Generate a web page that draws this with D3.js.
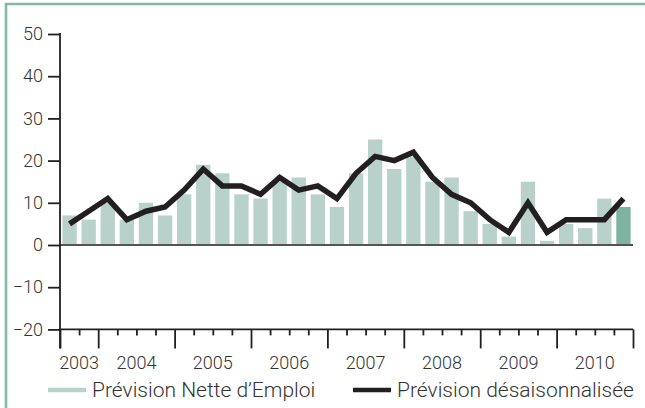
<!DOCTYPE html>
<html><head><meta charset="utf-8">
<script src="https://cdn.jsdelivr.net/npm/d3@7/dist/d3.min.js"></script>
<style>
html,body{margin:0;padding:0;background:#fff;}
svg{display:block;}
text{font-family:Roboto,"Liberation Sans",Arial,sans-serif;font-weight:300;fill:#333;}
</style></head>
<body><svg id="c" width="645" height="408"></svg>
<script>
// ---- data ----
const quarters = ["2003T3","2003T4",
 "2004T1","2004T2","2004T3","2004T4",
 "2005T1","2005T2","2005T3","2005T4",
 "2006T1","2006T2","2006T3","2006T4",
 "2007T1","2007T2","2007T3","2007T4",
 "2008T1","2008T2","2008T3","2008T4",
 "2009T1","2009T2","2009T3","2009T4",
 "2010T1","2010T2","2010T3","2010T4"];
const netEmploi = [7,6,10,6,10,7,12,19,17,12,11,15,16,12,9,17,25,18,21,15,16,8,5,2,15,1,5,4,11,9];
const desaison  = [5,8,11,6,8,9,13,18,14,14,12,16,13,14,11,17,21,20,22,16,12,10,6,3,10,3,6,6,6,11];
const years = ["2003","2004","2005","2006","2007","2008","2009","2010"];
const yTicks = [-20,-10,0,10,20,30,40,50];
const legendLabels = ["Prévision Nette d’Emploi","Prévision désaisonnalisée"];

// ---- layout ----
const svg = d3.select("#c");
const L = 60, R = 633, T = 34, B = 329.4;
const axisColor = "#231f20";

// border
svg.append("path")
  .attr("d", d3.line()([[6,410],[6,4],[650,4]]))
  .attr("fill","none").attr("stroke","#82b8a4").attr("stroke-width",2.6);

const x = d3.scaleBand().domain(quarters).range([L,R]).paddingInner(0.25).paddingOuter(0.125);
const qx = d3.scaleLinear().domain([0, quarters.length]).range([L,R]);
const y = d3.scaleLinear().domain([-20,50]).range([B,T]);

// bars
svg.append("g").selectAll("rect").data(netEmploi).join("rect")
  .attr("x",(d,i)=>x(quarters[i]))
  .attr("width",x.bandwidth())
  .attr("y",d=>y(Math.max(0,d)))
  .attr("height",d=>Math.abs(y(d)-y(0)))
  .attr("fill",(d,i)=> i===netEmploi.length-1 ? "#7db3a0" : "#b8d1ca");

// zero line
svg.append("line")
  .attr("x1",L).attr("x2",R).attr("y1",y(0)).attr("y2",y(0))
  .attr("stroke","#555").attr("stroke-width",2);

// seasonal line
svg.append("path")
  .datum(desaison)
  .attr("d", d3.line().x((d,i)=>x(quarters[i])+x.bandwidth()/2).y(d=>y(d)))
  .attr("fill","none").attr("stroke","#231f20").attr("stroke-width",5.5)
  .attr("stroke-linejoin","miter").attr("stroke-linecap","butt");

// y axis
const yAxis = svg.append("g").attr("transform",`translate(${L},0)`)
  .call(d3.axisLeft(y).tickValues(yTicks).tickSize(12).tickPadding(5).tickFormat(d3.format("d")));
yAxis.select(".domain").remove();
yAxis.selectAll(".tick line").attr("stroke",axisColor).attr("stroke-width",1.8);
yAxis.selectAll(".tick text").style("font-size","18px").attr("fill","#333");
svg.append("line").attr("x1",L).attr("x2",L).attr("y1",y(50)-0.9).attr("y2",B+19)
  .attr("stroke",axisColor).attr("stroke-width",1.8);

// x axis (quarter boundaries)
const isMajor = i => i===0 || i===quarters.length || (i+2)%4===0;
const xAxis = svg.append("g").attr("transform",`translate(0,${B})`)
  .call(d3.axisBottom(qx).tickValues(d3.range(0,quarters.length+1)).tickSize(6).tickFormat(""));
xAxis.select(".domain").attr("stroke",axisColor).attr("stroke-width",1.8).attr("d",`M${L},0H${R}`);
xAxis.selectAll(".tick line").attr("stroke",axisColor).attr("stroke-width",1.8)
  .attr("y2",d=>isMajor(d)?19:6);

// year labels
const yearStart = yr => Math.max(0, quarters.indexOf(yr+"T1"));
const yearEnd = yr => quarters.lastIndexOf(quarters.filter(q=>q.startsWith(yr)).slice(-1)[0]) + 1;
svg.append("g").selectAll("text").data(years).join("text")
  .attr("x",d=>(qx(yearStart(d))+qx(yearEnd(d)))/2)
  .attr("y",368.5)
  .attr("text-anchor","middle")
  .style("font-size","18px")
  .text(d=>d);

// legend
const lg = svg.append("g");
const leg = [{x:48, w:38, c:"#b8d1ca", t:legendLabels[0]},{x:353, w:38, c:"#231f20", t:legendLabels[1]}];
leg.forEach(l=>{
  lg.append("line").attr("x1",l.x).attr("x2",l.x+l.w).attr("y1",390).attr("y2",390)
    .attr("stroke",l.c).attr("stroke-width",4.5);
  lg.append("text").attr("x",l.x+l.w+6).attr("y",397).style("font-size","21px").text(l.t);
});
</script></body></html>
